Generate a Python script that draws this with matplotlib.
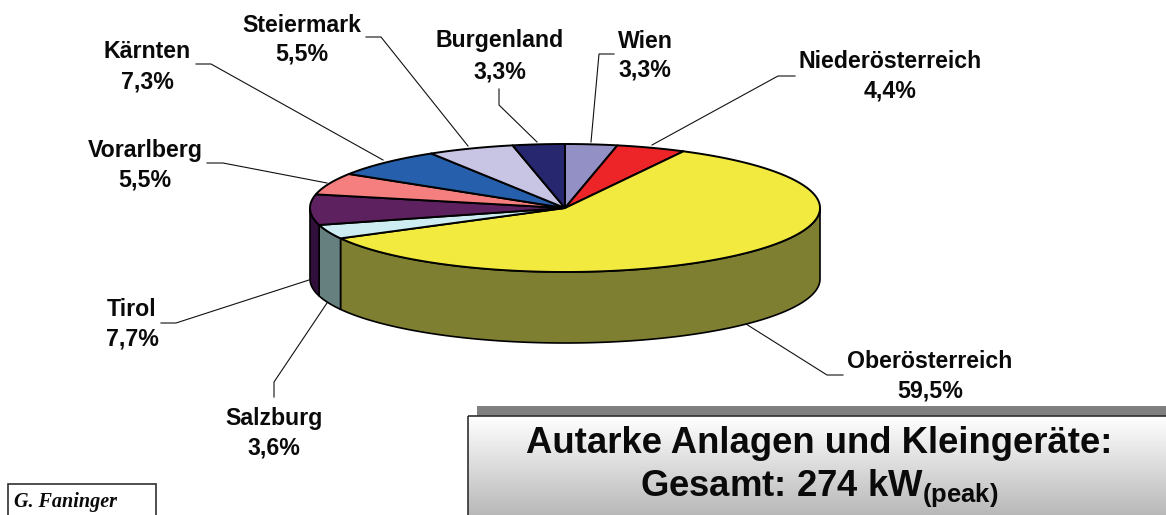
import numpy as np
import matplotlib
matplotlib.use("Agg")
import matplotlib.pyplot as plt
from matplotlib.patches import Polygon, Rectangle

plt.rcParams['font.family'] = ['Liberation Sans', 'DejaVu Sans']
plt.rcParams['mathtext.fontset'] = 'custom'
plt.rcParams['mathtext.bf'] = 'Liberation Sans:bold'
plt.rcParams['mathtext.rm'] = 'Liberation Sans:bold'

# ---------- data ----------
regions = ["Wien", "Niederösterreich", "Oberösterreich", "Salzburg", "Tirol",
           "Vorarlberg", "Kärnten", "Steiermark", "Burgenland"]
shares = [3.3, 4.4, 59.5, 3.6, 7.7, 5.5, 7.3, 5.5, 3.3]
share_labels = ["3,3%", "4,4%", "59,5%", "3,6%", "7,7%", "5,5%", "7,3%", "5,5%", "3,3%"]
top_colors = ["#9290C4", "#EE2528", "#F2EA3E", "#CEEDF2", "#5E2160",
              "#F57E7E", "#2660AC", "#C8C5E4", "#27276F"]
side_colors = ["#494862", "#771214", "#7F7F32", "#66807F", "#30103A",
               "#7A3F3F", "#133056", "#646272", "#131337"]
box_title = "Autarke Anlagen und Kleingeräte:"
box_total = r"Gesamt: 274 kW$_{\mathbf{(peak)}}$"
author = "G. Faninger"

# ---------- layout (pixel coordinates) ----------
W, H = 1166, 515
cx, cy, rx, ry, depth = 565, 208, 255, 64, 71
label_pos = {
    "Wien": (645, 41, 70), "Niederösterreich": (890, 62, 91),
    "Oberösterreich": (930, 362, 391), "Salzburg": (274, 419, 448),
    "Tirol": (132, 309, 339), "Vorarlberg": (145, 150, 180),
    "Kärnten": (147, 52, 82), "Steiermark": (302, 25, 54),
    "Burgenland": (500, 41, 72),
}
leaders = {
    "Wien": [(614, 54), (599, 54), (591, 142)],
    "Niederösterreich": [(795, 76), (778, 76), (652, 145)],
    "Oberösterreich": [(843, 375), (827, 375), (746, 324)],
    "Salzburg": [(274, 397), (274, 382), (327, 303)],
    "Tirol": [(161, 323), (176, 323), (309, 280)],
    "Vorarlberg": [(207, 163), (223, 163), (327, 183)],
    "Kärnten": [(196, 64), (211, 64), (383, 160)],
    "Steiermark": [(366, 37), (381, 37), (468, 146)],
    "Burgenland": [(499, 89), (499, 105), (537, 142)],
}

fig = plt.figure(figsize=(W / 100, H / 100), dpi=100)
ax = fig.add_axes([0, 0, 1, 1])
ax.set_xlim(0, W)
ax.set_ylim(H, 0)
ax.axis("off")


def rim(a0, a1, dy=0.0):
    t = np.radians(np.linspace(a0, a1, max(int(abs(a1 - a0) * 2), 2)))
    return np.column_stack([cx + rx * np.sin(t), cy - ry * np.cos(t) + dy])


edges = np.concatenate([[0], np.cumsum(shares)]) / np.sum(shares) * 360

# side walls (only the front half of the rim is visible)
for a0, a1, c in zip(edges[:-1], edges[1:], side_colors):
    lo, hi = max(a0, 90), min(a1, 270)
    if hi > lo:
        pts = np.vstack([rim(lo, hi), rim(lo, hi, depth)[::-1]])
        ax.add_patch(Polygon(pts, closed=True, fc=c, ec="black", lw=1.2, zorder=2))

# top faces
for a0, a1, c in zip(edges[:-1], edges[1:], top_colors):
    pts = np.vstack([[(cx, cy)], rim(a0, a1)])
    ax.add_patch(Polygon(pts, closed=True, fc=c, ec="black", lw=1.4, joinstyle="round", zorder=3))

# leader lines and labels
for name, lab in zip(regions, share_labels):
    xs, ys = zip(*leaders[name])
    ax.plot(xs, ys, color="#111111", lw=0.8, zorder=1, solid_joinstyle="miter")
    x, y1, y2 = label_pos[name]
    ax.text(x, y1, name, ha="center", va="center", fontsize=16.7, fontweight="bold", color="#0a0a0a")
    ax.text(x, y2, lab, ha="center", va="center", fontsize=16.7, fontweight="bold", color="#0a0a0a")

# info box with shadow and gradient
ax.add_patch(Rectangle((477, 406), W - 477, 12, fc="#808080", ec="none", zorder=4))
grad = np.linspace(1.0, 0.72, 256).reshape(-1, 1)
ax.imshow(grad, extent=(468, W + 2, H + 1, 416), cmap="gray", vmin=0, vmax=1,
          aspect="auto", zorder=5)
ax.add_patch(Rectangle((468, 416), W + 10 - 468, H, fc="none", ec="#303030", lw=1.2, zorder=6))
ax.set_xlim(0, W)
ax.set_ylim(H, 0)
ax.text(819, 453, box_title, ha="center", va="baseline", fontsize=26.3, fontweight="bold",
        color="#0a0a0a", zorder=7)
ax.text(819, 496, box_total, ha="center", va="baseline", fontsize=26.3, fontweight="bold",
        color="#0a0a0a", zorder=7)

# author box
ax.add_patch(Rectangle((8, 484), 148, 60, fc="white", ec="#303030", lw=1.2, zorder=6))
ax.text(14, 507, author, ha="left", va="baseline", fontsize=14.5, style="italic", fontweight="bold",
        family="Liberation Serif", color="#0a0a0a", zorder=7)

fig.savefig("out.png", dpi=100)
